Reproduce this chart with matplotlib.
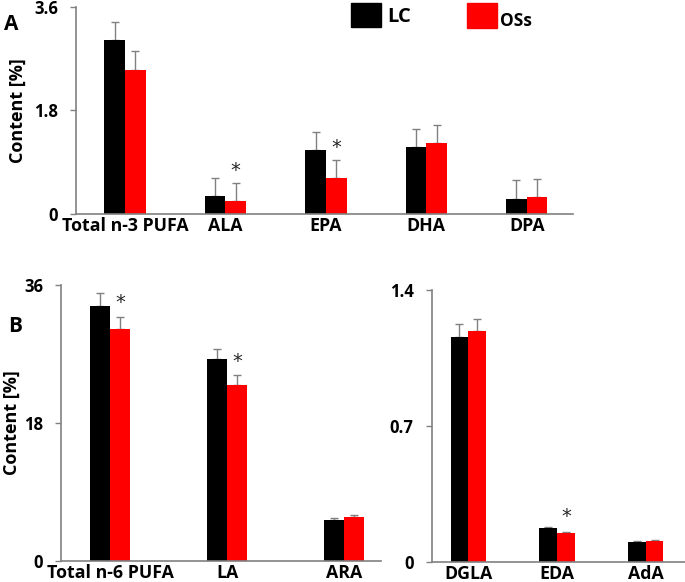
import matplotlib
matplotlib.use("Agg")
import matplotlib.pyplot as plt
from matplotlib.patches import Rectangle
import numpy as np

plt.rcParams['font.family'] = ['Open Sans', 'DejaVu Sans']
plt.rcParams['font.weight'] = 'bold'

# Panel A: n-3 PUFA
cats_a = ["Total n-3 PUFA", "ALA", "EPA", "DHA", "DPA"]
lc_a = [3.03, 0.32, 1.11, 1.17, 0.27]
lc_a_err = [0.31, 0.31, 0.32, 0.31, 0.32]
oss_a = [2.51, 0.23, 0.63, 1.24, 0.30]
oss_a_err = [0.32, 0.31, 0.31, 0.31, 0.32]
sig_a = [False, True, True, False, False]
yticks_a = [0, 1.8, 3.6]

# Panel B (left): n-6 PUFA
cats_b1 = ["Total n-6 PUFA", "LA", "ARA"]
lc_b1 = [33.3, 26.4, 5.35]
lc_b1_err = [1.65, 1.3, 0.3]
oss_b1 = [30.3, 23.0, 5.7]
oss_b1_err = [1.57, 1.2, 0.34]
sig_b1 = [True, True, False]
yticks_b1 = [0, 18, 36]

# Panel B (right)
cats_b2 = ["DGLA", "EDA", "AdA"]
lc_b2 = [1.16, 0.175, 0.106]
lc_b2_err = [0.064, 0.006, 0.003]
oss_b2 = [1.188, 0.151, 0.111]
oss_b2_err = [0.062, 0.006, 0.003]
sig_b2 = [False, True, False]
yticks_b2 = [0, 0.7, 1.4]

W, H = 685, 582
fig = plt.figure(figsize=(W / 100, H / 100), dpi=100)


def px_axes(x0, y0, x1, y1):
    return fig.add_axes([x0 / W, 1 - y1 / H, (x1 - x0) / W, (y1 - y0) / H])


GRAY = "#808080"


def draw(ax, cats, lc, lce, oss, osse, sig, yticks, ylim, xlim, bw, star_off, ylabel_x=None):
    x = np.arange(len(cats))
    ax.bar(x - bw / 2, lc, bw, color="black", zorder=2)
    ax.bar(x + bw / 2, oss, bw, color="#ff0000", zorder=2)
    ax.errorbar(x - bw / 2, lc, yerr=[np.zeros(len(lc)), lce], fmt="none",
                ecolor=GRAY, elinewidth=1, capsize=3, capthick=1, zorder=1)
    ax.errorbar(x + bw / 2, oss, yerr=[np.zeros(len(oss)), osse], fmt="none",
                ecolor=GRAY, elinewidth=1, capsize=3, capthick=1, zorder=1)
    for i, s in enumerate(sig):
        if s:
            ax.annotate("*", (x[i] + bw / 2, oss[i] + osse[i]), xytext=(0, star_off),
                        textcoords="offset points", ha="center", va="center",
                        fontsize=14, fontweight="normal", color="#262626",
                        family=["DejaVu Sans"])
    ax.set_xlim(*xlim)
    ax.set_ylim(*ylim)
    ax.set_xticks(x)
    ax.set_xticklabels(cats, fontsize=12.8, fontweight="bold")
    ax.set_yticks(yticks)
    ax.set_yticklabels([f"{t:g}" for t in yticks], fontsize=12, fontweight="bold")
    ax.tick_params(axis="x", length=0, pad=2)
    ax.tick_params(axis="y", length=4, width=1, color=GRAY, pad=9, direction="out")
    for s in ["top", "right"]:
        ax.spines[s].set_visible(False)
    for s in ["left", "bottom"]:
        ax.spines[s].set_color(GRAY)
        ax.spines[s].set_linewidth(1.2)
    if ylabel_x is not None:
        ax.set_ylabel("Content [%]", fontsize=13, fontweight="bold")
        ax.yaxis.set_label_coords(ylabel_x, 0.5)


axA = px_axes(76, 6.7, 572.7, 214.3)
draw(axA, cats_a, lc_a, lc_a_err, oss_a, oss_a_err, sig_a, yticks_a, (0, 3.6),
     (-0.487, 4.457), 0.206, 9, ylabel_x=-0.099)

axB1 = px_axes(61.3, 285, 380.7, 561)
draw(axB1, cats_b1, lc_b1, lc_b1_err, oss_b1, oss_b1_err, sig_b1, yticks_b1, (0, 36),
     (-0.419, 2.311), 0.171, 10, ylabel_x=-0.127)

axB2 = px_axes(431.7, 290, 685, 562.3)
draw(axB2, cats_b2, lc_b2, lc_b2_err, oss_b2, oss_b2_err, sig_b2, yticks_b2, (0, 1.4),
     (-0.413, 2.443), 0.2, 11)

# Panel letters
fig.text(4 / W, 1 - 25 / H, "A", fontsize=15, fontweight="bold", ha="left", va="center")
fig.text(8 / W, 1 - 326 / H, "B", fontsize=15, fontweight="bold", ha="left", va="center")

# Legend
fig.patches.append(Rectangle((350.7 / W, 1 - 27.3 / H), 30.3 / W, 24.6 / H,
                             transform=fig.transFigure, color="black"))
fig.patches.append(Rectangle((466.7 / W, 1 - 28.3 / H), 30.6 / W, 25 / H,
                             transform=fig.transFigure, color="#ff0000"))
fig.text(387 / W, 1 - 17 / H, "LC", fontsize=14.5, fontweight="bold", ha="left", va="center")
fig.text(500 / W, 1 - 21 / H, "OSs", fontsize=12.5, fontweight="bold", ha="left", va="center")

fig.savefig("out.png", dpi=100)
